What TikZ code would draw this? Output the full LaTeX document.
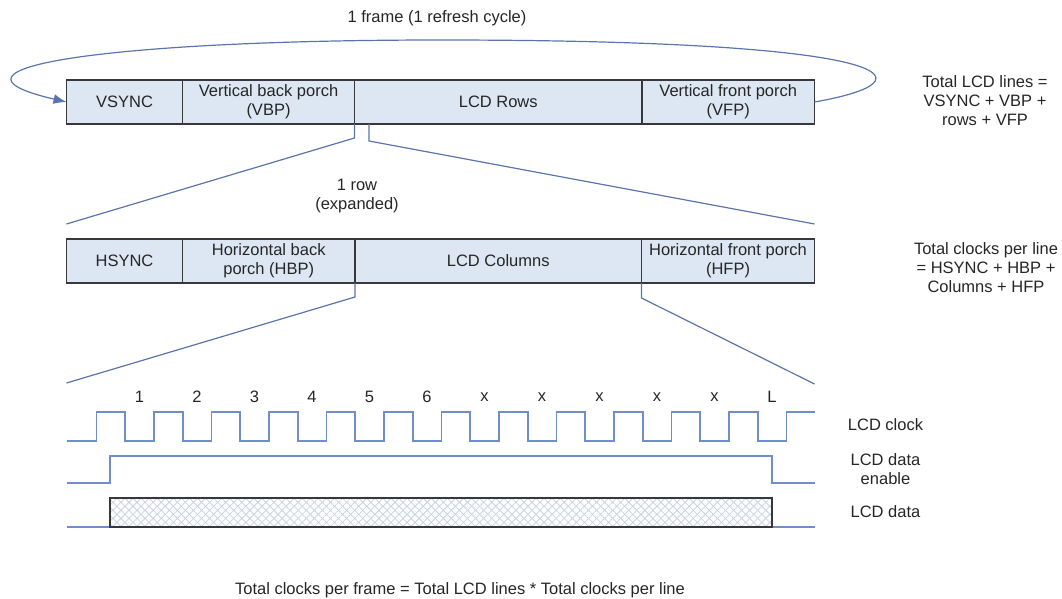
\documentclass[tikz,border=0pt]{standalone}
\usepackage{fontspec}
\setmainfont{Liberation Sans}
\usetikzlibrary{arrows.meta,patterns.meta}

\definecolor{barfill}{RGB}{221,231,243}
\definecolor{barline}{RGB}{55,55,60}
\definecolor{sigblue}{RGB}{112,142,204}
\definecolor{guide}{RGB}{92,116,172}
\definecolor{hatch}{RGB}{200,210,226}
\definecolor{ink}{RGB}{38,38,38}

\newcommand*{\xleft}{66.5}
\newcommand*{\xright}{814.5}
\newcommand*{\clkhi}{412}
\newcommand*{\clklo}{441}
\newcommand*{\enhi}{456}
\newcommand*{\enlo}{483}
\newcommand*{\datatop}{498}
\newcommand*{\databot}{527}

\begin{document}
\begin{tikzpicture}
[
	x=1pt,y=-1pt,
	font=\fontsize{16.5}{19}\selectfont,
	every node/.style={text=ink,align=center},
	cell/.style={draw=barline,fill=barfill,line width=1.4pt,outer sep=0pt,inner sep=0pt,minimum height=44pt},
	zoomline/.style={guide,line width=1.2pt},
	sig/.style={sigblue,line width=1.6pt}
]
	\useasboundingbox (0,0) rectangle (1062,599);

	% frame bar
	\node[cell,minimum width=116pt] (vsync) at (124.5,102) {VSYNC};
	\node[cell,minimum width=172pt] (vbp) at (268.5,102) {Vertical back porch\\(VBP)};
	\node[cell,minimum width=287.5pt] (rows) at (498.25,102) {LCD Rows};
	\node[cell,minimum width=172.5pt] (vfp) at (728.25,102) {Vertical front porch\\(VFP)};

	\node (frame) at (437,18) {1 frame (1 refresh cycle)};
	\node (lines) at (985,101) {Total LCD lines =\\VSYNC + VBP +\\rows + VFP};

	% refresh loop
	\draw[zoomline,-{Latex[length=13pt,width=10pt]}] (vfp.east)
		.. controls (940,80) and (900,40) .. (440,40)
		.. controls (110,40) and (-80,68) .. (vsync.west);

	% row bar
	\node[cell,minimum width=116pt] (hsync) at (124.5,261) {HSYNC};
	\node[cell,minimum width=172.5pt] (hbp) at (268.75,261) {Horizontal back\\porch (HBP)};
	\node[cell,minimum width=286.5pt] (cols) at (498.25,261) {LCD Columns};
	\node[cell,minimum width=173pt] (hfp) at (728,261) {Horizontal front porch\\(HFP)};

	\node (rowtxt) at (357,196) {1 row\\(expanded)};
	\node (clocks) at (986,268) {Total clocks per line\\= HSYNC + HBP +\\Columns + HFP};

	% expansion lines
	\coordinate (rowtap) at (369,124);
	\coordinate (zl) at (\xleft,224);
	\coordinate (zr) at (\xright,224);
	\coordinate (wl) at (\xleft,383);
	\coordinate (wr) at (\xright,384);
	\draw[zoomline] (rows.south west) -- ++(0,14) -- (zl);
	\draw[zoomline] (rowtap) -- ++(0,17) -- (zr);
	\draw[zoomline] (cols.south west) -- ++(0,14) -- (wl);
	\draw[zoomline] (hfp.south west) -- ++(0,15) -- (wr);

	% clock labels
	\foreach \t [count=\k from 0] in {1,2,3,4,5,6,x,x,x,x,x,L} {
		\node (tick\k) at ({139.4+57.5*\k},397) {\t};
	}

	% LCD clock
	\draw[sig] (\xleft,\clklo)
		\foreach \k in {0,...,11} {
			-- ({96.5+57.5*\k},\clklo) -- ({96.5+57.5*\k},\clkhi)
			-- ({125.25+57.5*\k},\clkhi) -- ({125.25+57.5*\k},\clklo)
		}
		-- (786.5,\clklo) -- (786.5,\clkhi) -- (\xright,\clkhi);

	% data enable
	\draw[sig] (\xleft,\enlo) -- (110,\enlo) -- (110,\enhi)
		-- (772,\enhi) -- (772,\enlo) -- (\xright,\enlo);

	% data
	\draw[sig] (\xleft,\databot) -- (\xright,\databot);
	\fill[white] (110,\datatop) rectangle (772,\databot);
	\fill[pattern={Lines[angle=45,distance=5.7pt,line width=0.8pt]},pattern color=hatch]
		(110,\datatop) rectangle (772,\databot);
	\fill[pattern={Lines[angle=-45,distance=5.7pt,line width=0.8pt]},pattern color=hatch]
		(110,\datatop) rectangle (772,\databot);
	\draw[barline,line width=1.4pt] (110,\datatop) rectangle (772,\databot);

	% signal names
	\node (clklbl) at (885.5,425) {LCD clock};
	\node (enlbl) at (885.5,469) {LCD data\\enable};
	\node (datalbl) at (885.5,512) {LCD data};

	\node (total) at (460,590) {Total clocks per frame = Total LCD lines * Total clocks per line};

\end{tikzpicture}
\end{document}
